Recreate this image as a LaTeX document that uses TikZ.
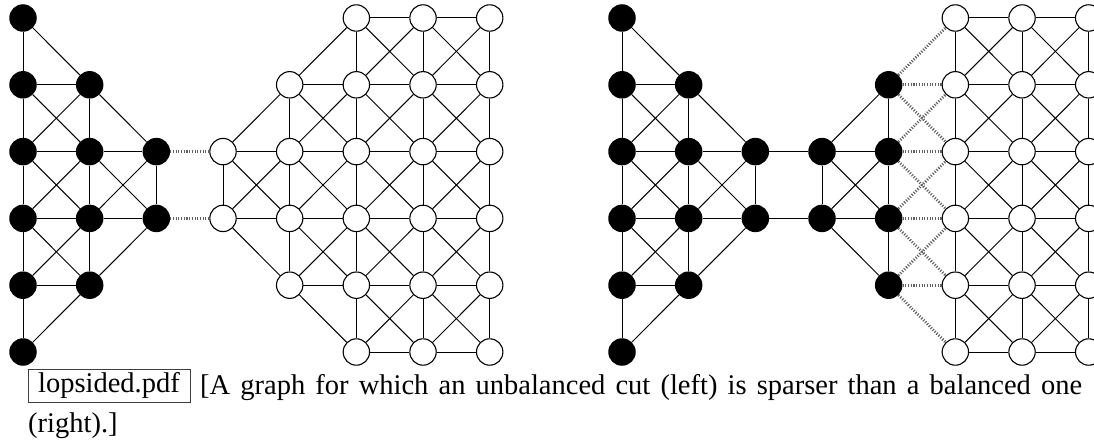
\documentclass[tikz,border=0pt]{standalone}
\usepackage{fontspec}
\setmainfont{Liberation Serif}
\newcommand\mycapfont{\fontsize{28.5pt}{34pt}\selectfont}
\tikzset{
  bnode/.style={circle, fill=black, minimum size=27.5pt, inner sep=0pt},
  wnode/.style={circle, draw=black, fill=white, line width=1.1pt, minimum size=26.4pt, inner sep=0pt},
  plainedge/.style={line width=1pt, black},
  cutedge/.style={line width=2.8pt, black!62, dash pattern=on 1.1pt off 1.6pt},
  captext/.style={anchor=base west, inner sep=0pt, font=\mycapfont},
}
\newcommand\gedge[3]{%
  \ifcsname pgf@sh@ns@#1\endcsname
    \ifcsname pgf@sh@ns@#2\endcsname
      \ifnum#3=1 \draw[cutedge] (#1) -- (#2);\else\draw[plainedge] (#1) -- (#2);\fi
    \fi
  \fi}
\begin{document}
\begin{tikzpicture}[x=1pt,y=1pt]
\useasboundingbox (0,0) rectangle (1094,440);
% nodes
\foreach \G/\xo/\cc in {L/23/2, R/622/4} {
  \foreach \i/\lo/\hi in {0/0/5,1/1/4,2/2/3,3/2/3,4/1/4,5/0/5,6/0/5,7/0/5} {
    \pgfmathsetmacro\xx{\xo+66.67*\i}
    \foreach \j in {\lo,...,\hi} {
      \pgfmathsetmacro\yy{422-66.8*\j}
      \ifnum\i>\cc
        \node[wnode] (\G-\i-\j) at (\xx,\yy) {};
      \else
        \node[bnode] (\G-\i-\j) at (\xx,\yy) {};
      \fi
    }
  }
}
% edges
\foreach \G/\cc in {L/2, R/4} {
  \foreach \i in {0,...,7} {
    \pgfmathtruncatemacro\ii{\i+1}
    \pgfmathtruncatemacro\fl{\i==\cc ? 1 : 0}
    \foreach \j in {0,...,5} {
      \pgfmathtruncatemacro\jj{\j+1}
      \gedge{\G-\i-\j}{\G-\i-\jj}{0}
      \gedge{\G-\i-\j}{\G-\ii-\j}{\fl}
      \ifnum\i=2 \else
        \gedge{\G-\i-\j}{\G-\ii-\jj}{\fl}
        \gedge{\G-\i-\jj}{\G-\ii-\j}{\fl}
      \fi
    }
  }
}
% caption
\node[draw=black!75, line width=0.8pt, minimum width=162pt, minimum height=33pt, inner sep=0pt, font=\mycapfont] (file) at (109,54.5) {lopsided.pdf};
\node[captext] (cap1) at (200,46) {\makebox[882pt][s]{[A graph for which an unbalanced cut (left) is sparser than a balanced one}};
\node[captext] (cap2) at (28,8) {(right).]};
\end{tikzpicture}
\end{document}
